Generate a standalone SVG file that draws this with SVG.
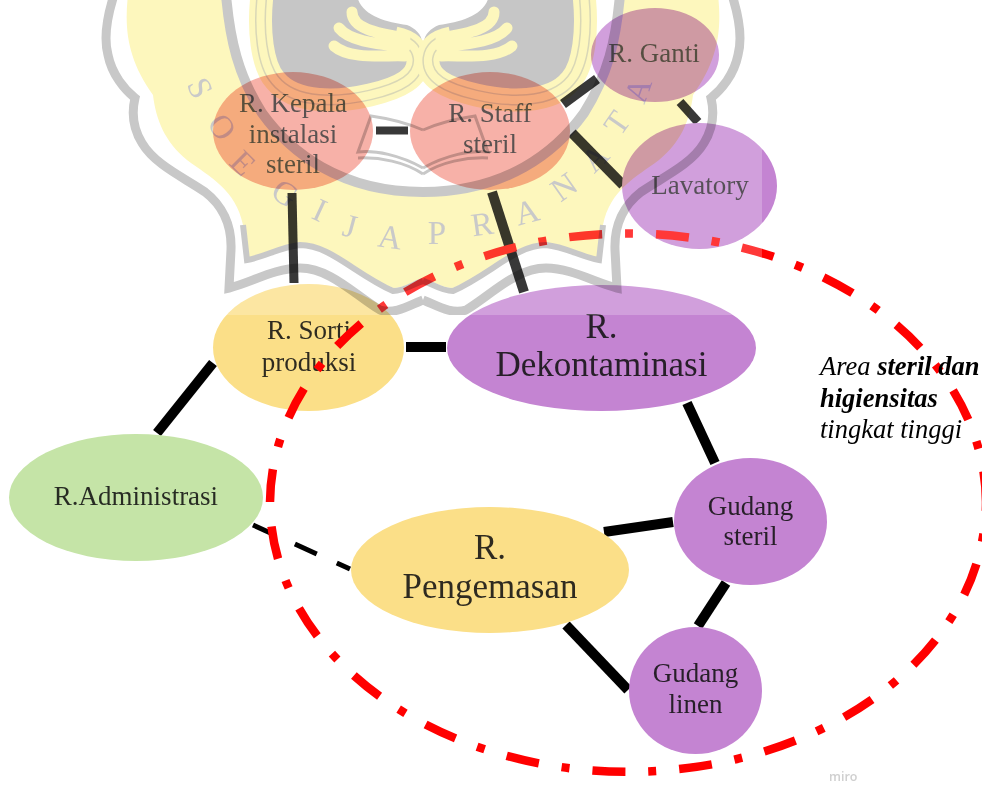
<svg xmlns="http://www.w3.org/2000/svg" xmlns:xlink="http://www.w3.org/1999/xlink" width="982" height="785" viewBox="0 0 982 785">
<style>
.l{fill:none;stroke:#000;stroke-width:10}
.t{font-family:"Liberation Serif","Times New Roman",serif;font-size:27px;fill:#111;fill-opacity:.88;text-anchor:middle}
.b{font-size:35px}
.p{fill:#c484d2}.y{fill:#fbdf88}.g{fill:#c5e4a7}.k{fill:#f59c90}
.a{font-family:"Liberation Serif","Times New Roman",serif;font-size:26.5px;font-style:italic;fill:#000}
.a tspan.s{font-weight:bold}
.w{fill:#c9c9c9;font-family:"Liberation Serif",serif;font-size:33px;text-anchor:middle}
.gb{fill:none;stroke:#c8c8c8}
.s0{fill:none;stroke-linecap:butt}
.r{fill:none;stroke:#f00;stroke-width:8.500;stroke-dasharray:33 23 8 23}
</style>
<defs>
<path id="st" d="M262,-5C258,30 262,65 275,80C295,105 340,102 370,95C400,88 420,78 418,58C416,44 405,40 395,38"/>
<clipPath id="wc"><rect x="0" y="0" width="762" height="315"/></clipPath>
<g id="half">
<path fill="#fdf7bd" d="M128,-5C124,30 128,60 153,95C156,120 165,142 187,160C210,177 236,190 243,225L247,258C265,255 280,245 300,243C330,243 355,272 393,288C405,288 415,280 423,278L423,-5Z"/>
<path class="gb" stroke-width="9" d="M114,-5C106,20 104,40 108,55C112,75 125,90 135,98C131,115 134,130 142,143C155,165 185,178 205,192C222,205 232,225 231,250L229,288C250,283 275,268 300,268C330,268 355,295 380,310C395,315 410,305 423,300"/>
<path class="gb" stroke-width="6" d="M243,225L247,260C265,257 280,247 300,245C330,245 355,274 393,291C405,291 415,283 423,281"/>
<path fill="#fff" d="M228,-5C232,40 240,75 262,110C290,150 340,192 423,192L423,-5Z"/>
<path class="gb" stroke-width="10" d="M226,-5C230,40 238,75 262,113C290,152 340,192 423,192"/>
<path fill="#c6c6c6" d="M262,-5L357,-5C360,15 385,22 407,25C415,28 422,35 422,42L412,78C380,100 330,105 295,95C275,85 262,60 262,-5Z"/>
<g class="s0">
<use xlink:href="#st" stroke="#fdf7bd" stroke-width="23"/>
<use xlink:href="#st" stroke="#d9d7b6" stroke-width="11"/>
<use xlink:href="#st" stroke="#fdf7bd" stroke-width="8"/>
</g>
<path d="M352,12C352,28 375,33 405,38M339,28C350,42 380,44 405,47M334,46C350,60 385,55 405,56" fill="none" stroke="#fdf7bd" stroke-width="11" stroke-linecap="round"/>
<path class="gb" stroke-width="3" d="M423,130C405,122 385,118 371,116L358,152C375,150 400,155 423,168M358,158C380,157 405,162 423,174"/>
</g>
</defs>
<rect width="982" height="785" fill="#fff"/>
<g id="connectors">
<path class="l" d="M292,193L294,283" style="stroke-width:9"/>
<path class="l" d="M376,130.500H408" style="stroke-width:8"/>
<path class="l" d="M563,104L597,79"/>
<path class="l" d="M572,133L623,185"/>
<path class="l" d="M680,102L698,122" style="stroke-width:9"/>
<path class="l" d="M492,192L524,292"/>
<path class="l" d="M406,347H446"/>
<path class="l" d="M213,363L157,433"/>
<path class="l" d="M687,403L715,463"/>
<path class="l" d="M604,532L673,522"/>
<path class="l" d="M726,583L698,626"/>
<path class="l" d="M566,625L628,690"/>
<path class="l" d="M253,525L350,569" style="stroke-width:5;stroke-dasharray:24 22"/>
</g>
<g id="kepala"><ellipse class="k" cx="293" cy="131" rx="80" ry="59"/><text class="t" x="293" y="112">R. Kepala</text><text class="t" x="293" y="143">instalasi</text><text class="t" x="293" y="173">steril</text></g>
<g id="staff"><ellipse class="k" cx="490" cy="131" rx="80" ry="59"/><text class="t" x="490" y="122">R. Staff</text><text class="t" x="490" y="153">steril</text></g>
<g id="ganti"><ellipse class="p" cx="655" cy="55" rx="64" ry="47"/><text class="t" x="654" y="62">R. Ganti</text></g>
<g id="lavatory"><ellipse class="p" cx="699.500" cy="186" rx="77.500" ry="63"/><text class="t" x="700" y="194">Lavatory</text></g>
<g id="sorti"><ellipse class="y" cx="308.500" cy="347.500" rx="95.500" ry="63.500"/><text class="t" x="309" y="339">R. Sorti</text><text class="t" x="309" y="371">produksi</text></g>
<g id="dekontaminasi"><ellipse class="p" cx="601.500" cy="348" rx="154.500" ry="63"/><text class="t b" x="601.500" y="338">R.</text><text class="t b" x="601.500" y="376">Dekontaminasi</text></g>
<g id="administrasi"><ellipse class="g" cx="136" cy="497.500" rx="127" ry="63.500"/><text class="t" x="136" y="505">R.Administrasi</text></g>
<g id="pengemasan"><ellipse class="y" cx="490" cy="570" rx="139" ry="63"/><text class="t b" x="490" y="559">R.</text><text class="t b" x="490" y="598">Pengemasan</text></g>
<g id="gudang-steril"><ellipse class="p" cx="750.500" cy="521.500" rx="76.500" ry="63.500"/><text class="t" x="750.500" y="515">Gudang</text><text class="t" x="750.500" y="545">steril</text></g>
<g id="gudang-linen"><ellipse class="p" cx="695.500" cy="690.500" rx="66.500" ry="63.500"/><text class="t" x="695.500" y="682">Gudang</text><text class="t" x="695.500" y="713">linen</text></g>
<g id="area">
<path class="r" style="stroke-dashoffset:-3" d="M270,505A358,270 0 0 1 986,502"/>
<path class="r" style="stroke-dashoffset:-63" d="M986,502A358,270 0 0 1 271,522"/>
</g>
<text class="a" x="820" y="375">Area <tspan class="s">steril dan</tspan></text>
<text class="a" x="820" y="407"><tspan class="s">higiensitas</tspan></text>
<text class="a" x="820" y="438">tingkat tinggi</text>
<text x="829" y="781" font-family="'Open Sans',sans-serif" font-size="12.500" font-weight="600" fill="#cfcfcf">miro</text>
<rect id="veil" x="0" y="0" width="762" height="315" fill="#fff" fill-opacity=".22"/>
<g id="watermark" clip-path="url(#wc)" style="mix-blend-mode:multiply">
<use xlink:href="#half"/>
<use xlink:href="#half" transform="translate(846,0) scale(-1,1)"/>
<g class="w">
<text y="11" transform="translate(200,88) rotate(65)">S</text>
<text y="11" transform="translate(222,127) rotate(55)">O</text>
<text y="11" transform="translate(243,163) rotate(45)">E</text>
<text y="11" transform="translate(285,193) rotate(35)">G</text>
<text y="11" transform="translate(320,210) rotate(25)">I</text>
<text y="11" transform="translate(350,226) rotate(15)">J</text>
<text y="11" transform="translate(390,237) rotate(8)">A</text>
<text y="11" transform="translate(437,233) rotate(0)">P</text>
<text y="11" transform="translate(482,224) rotate(-8)">R</text>
<text y="11" transform="translate(527,212) rotate(-15)">A</text>
<text y="11" transform="translate(564,187) rotate(-35)">N</text>
<text y="11" transform="translate(595,158) rotate(-45)">A</text>
<text y="11" transform="translate(617,123) rotate(-55)">T</text>
<text y="11" transform="translate(638,90) rotate(-70)">A</text>
</g>
</g>
</svg>
